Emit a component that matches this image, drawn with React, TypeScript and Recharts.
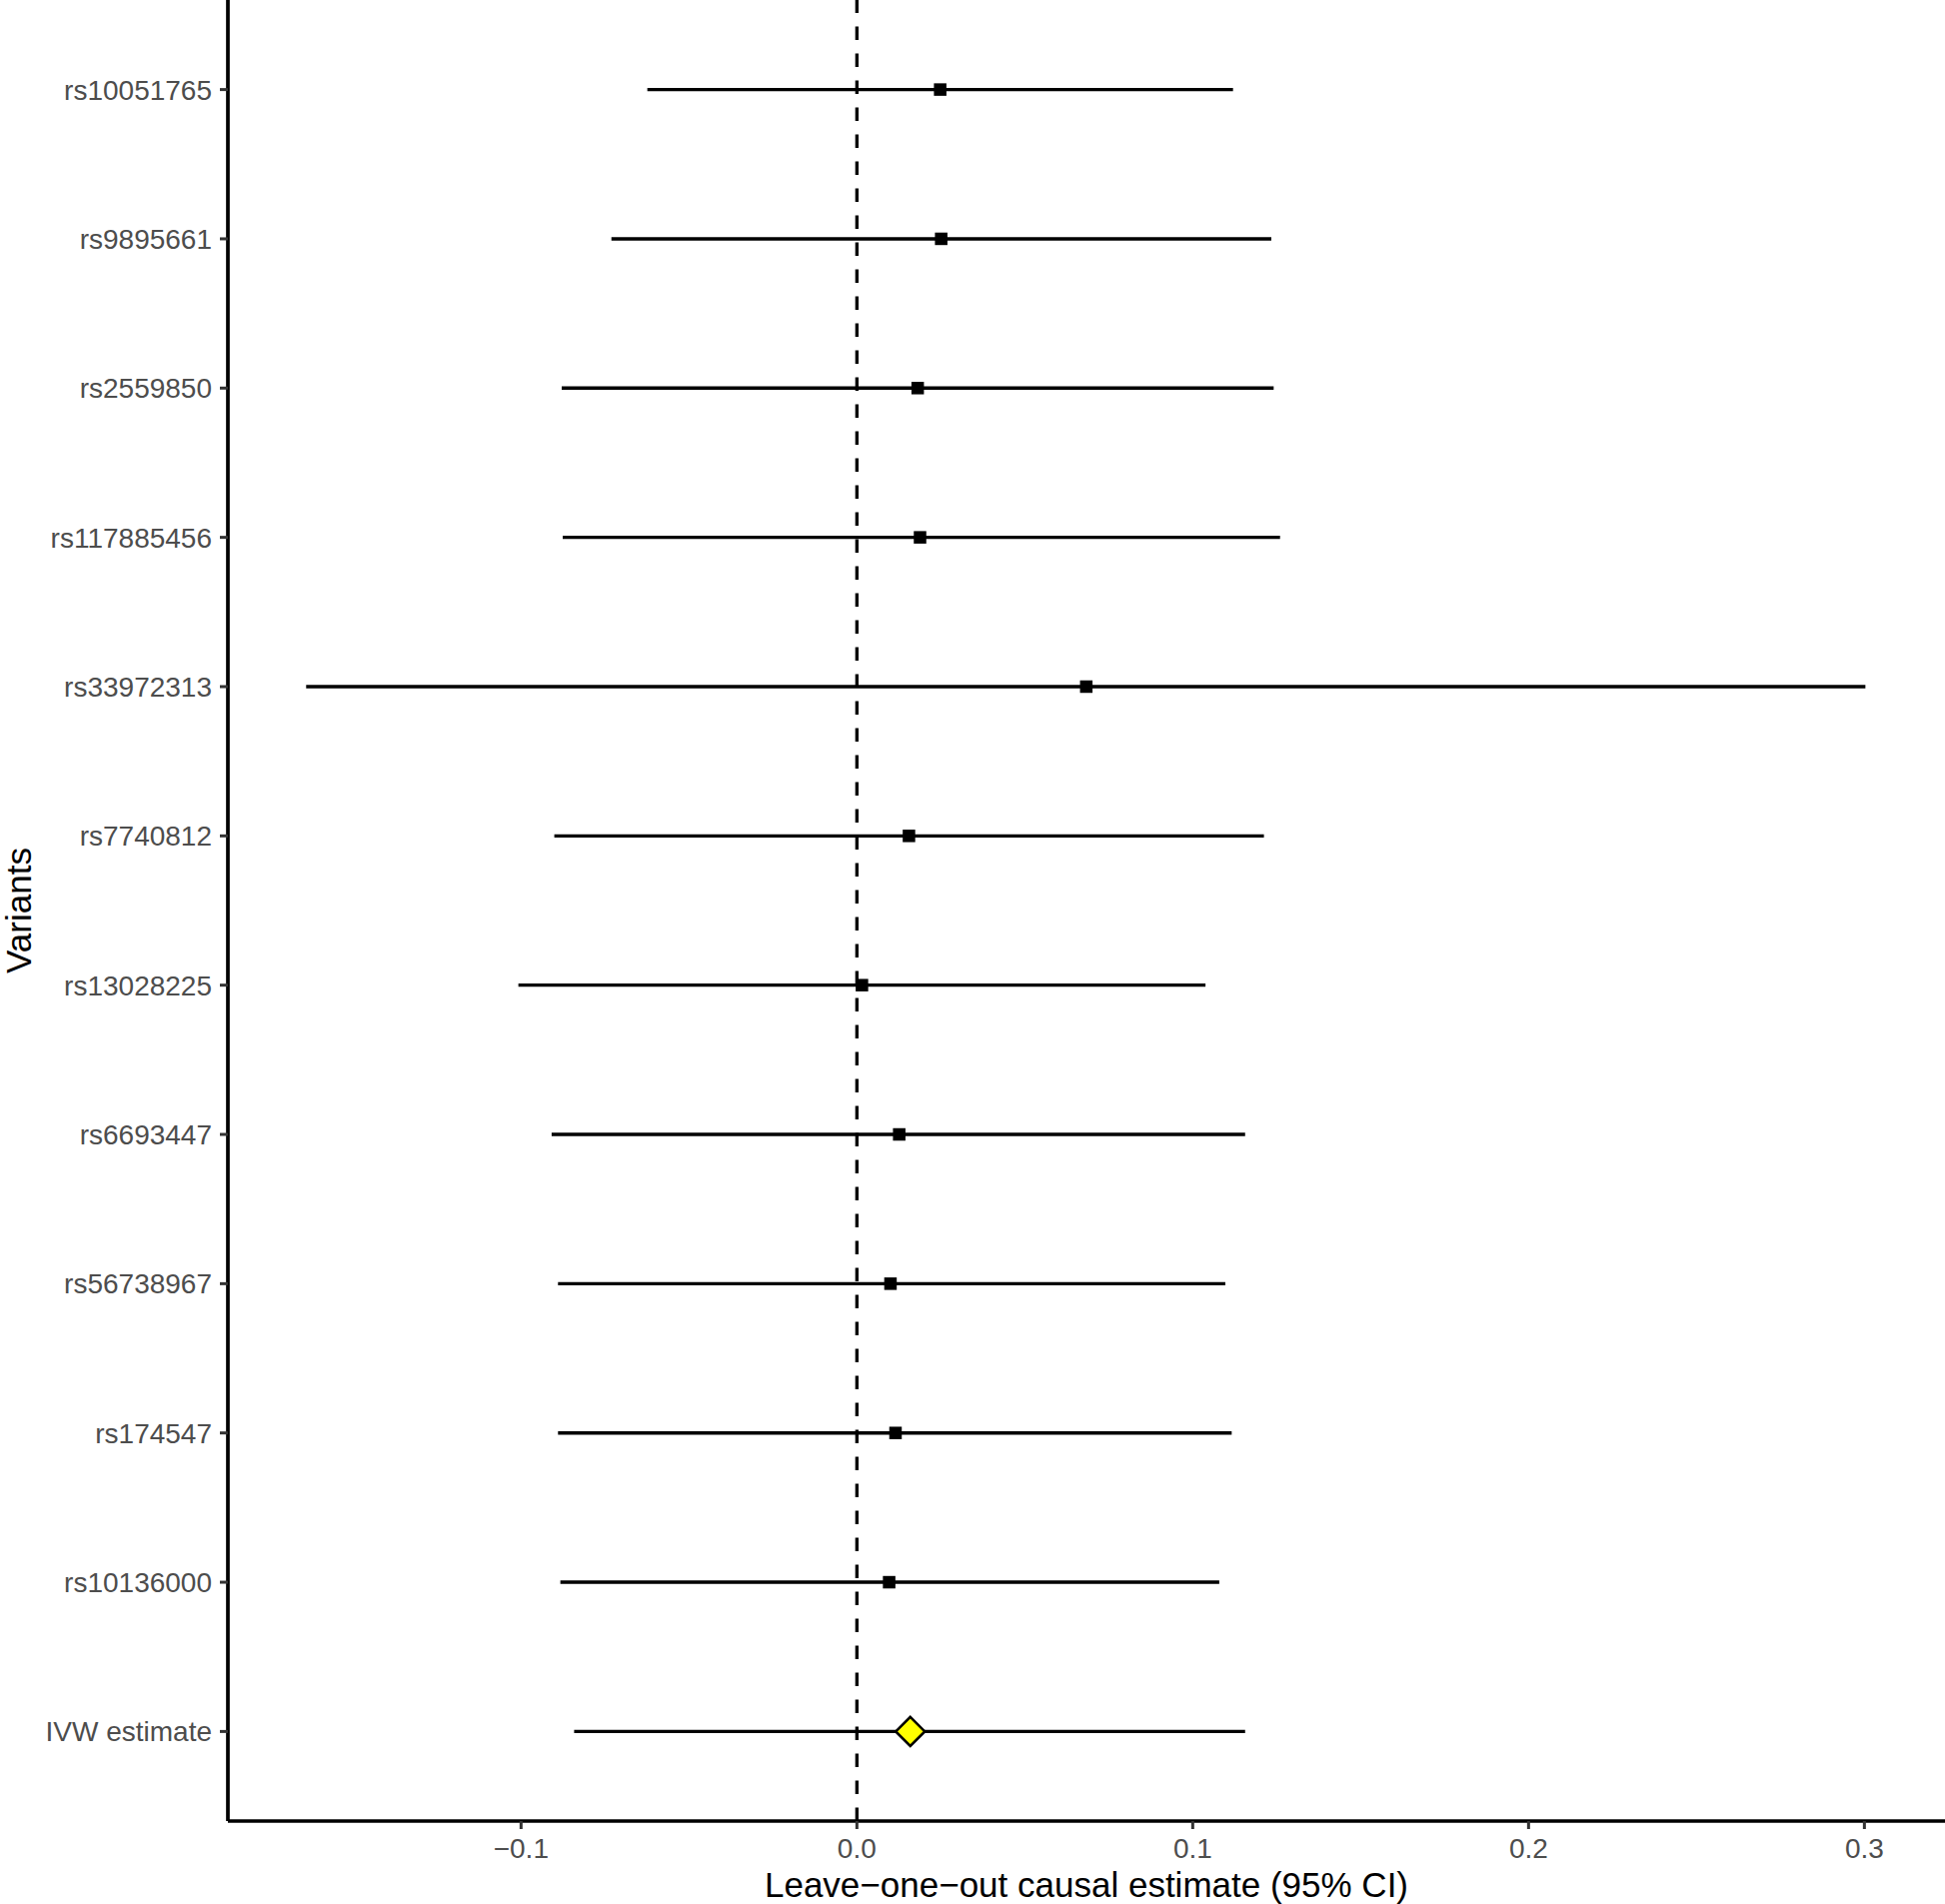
import { ScatterChart, Scatter, XAxis, YAxis, ErrorBar, ReferenceLine, Label } from 'recharts'

const variants = [
  'rs10051765',
  'rs9895661',
  'rs2559850',
  'rs117885456',
  'rs33972313',
  'rs7740812',
  'rs13028225',
  'rs6693447',
  'rs56738967',
  'rs174547',
  'rs10136000',
  'IVW estimate',
]
const estimates = [0.0248, 0.0251, 0.0181, 0.0188, 0.0683, 0.0155, 0.0015, 0.0126, 0.01, 0.0115, 0.0096, 0.0159]
const lower = [-0.0624, -0.0731, -0.0879, -0.0876, -0.164, -0.0901, -0.1008, -0.0909, -0.089, -0.089, -0.0883, -0.0842]
const upper = [0.112, 0.1234, 0.1241, 0.126, 0.3003, 0.1212, 0.1038, 0.1156, 0.1097, 0.1116, 0.1079, 0.1156]
const xTicks = [-0.1, 0, 0.1, 0.2, 0.3]

const rows = variants.map((name, i) => ({
  name,
  pos: i + 1,
  est: estimates[i],
  err: [estimates[i] - lower[i], upper[i] - estimates[i]],
}))
const snpRows = rows.slice(0, -1)
const ivwRows = rows.slice(-1)

const FONT = '"Liberation Sans", Arial, Helvetica, sans-serif'

if (typeof document !== 'undefined') {
  document.body.style.margin = '0'
  document.body.style.overflow = 'hidden'
}

const fmtX = (v: number) => (v < 0 ? '\u2212' : '') + Math.abs(v).toFixed(1)

function Square(props: any) {
  const { cx, cy } = props
  return <rect x={cx - 6.25} y={cy - 6.25} width={12.5} height={12.5} fill="#000" />
}

function Diamond(props: any) {
  const { cx, cy } = props
  const r = 14.5
  return (
    <polygon
      points={`${cx},${cy - r} ${cx + r},${cy} ${cx},${cy + r} ${cx - r},${cy}`}
      fill="#FFFF00"
      stroke="#000"
      strokeWidth={2.6}
    />
  )
}

export default function App() {
  return (
    <div style={{ position: 'absolute', left: 0, top: 0, width: 1946, height: 1905, background: '#fff' }}>
      <ScatterChart width={1946} height={1905} margin={{ top: 0, right: 0, left: 0, bottom: 0 }}>
        <XAxis
          type="number"
          dataKey="est"
          domain={[-0.1873, 0.324]}
          allowDataOverflow
          ticks={xTicks}
          tickFormatter={fmtX}
          height={83}
          tickSize={8}
          tickMargin={9}
          axisLine={{ stroke: '#000', strokeWidth: 3.7 }}
          tickLine={{ stroke: '#333', strokeWidth: 3 }}
          tick={{ fill: '#4D4D4D', fontSize: 28, fontFamily: FONT }}
        >
          <Label
            content={(p: any) => {
              const vb = p.viewBox
              return (
                <text
                  x={vb.x + vb.width / 2}
                  y={vb.y + 76}
                  textAnchor="middle"
                  fontSize={35}
                  fontFamily={FONT}
                  fill="#000"
                >
                  Leave{'\u2212'}one{'\u2212'}out causal estimate (95% CI)
                </text>
              )
            }}
          />
        </XAxis>
        <YAxis
          type="number"
          dataKey="pos"
          domain={[0.4, 12.6]}
          reversed
          ticks={rows.map((r) => r.pos)}
          interval={0}
          tickFormatter={(v: number) => variants[v - 1]}
          width={228}
          tickSize={8}
          tickMargin={8}
          axisLine={{ stroke: '#000', strokeWidth: 3.7 }}
          tickLine={{ stroke: '#333', strokeWidth: 3 }}
          tick={{ fill: '#4D4D4D', fontSize: 28, fontFamily: FONT }}
        >
          <Label
            content={(p: any) => {
              const vb = p.viewBox
              const cy = vb.y + vb.height / 2
              return (
                <text
                  x={31}
                  y={cy}
                  transform={`rotate(-90, 31, ${cy})`}
                  textAnchor="middle"
                  fontSize={35}
                  fontFamily={FONT}
                  fill="#000"
                >
                  Variants
                </text>
              )
            }}
          />
        </YAxis>
        <ReferenceLine x={0} stroke="#000" strokeWidth={3.3} strokeDasharray="13.5 13.5" />
        <Scatter data={snpRows} shape={<Square />} isAnimationActive={false}>
          <ErrorBar dataKey="err" direction="x" width={0} stroke="#000" strokeWidth={3.4} isAnimationActive={false} />
        </Scatter>
        <Scatter data={ivwRows} shape={<Diamond />} isAnimationActive={false} />
        <Scatter data={ivwRows} shape={() => <g />} isAnimationActive={false}>
          <ErrorBar dataKey="err" direction="x" width={0} stroke="#000" strokeWidth={3.4} isAnimationActive={false} />
        </Scatter>
      </ScatterChart>
    </div>
  )
}
